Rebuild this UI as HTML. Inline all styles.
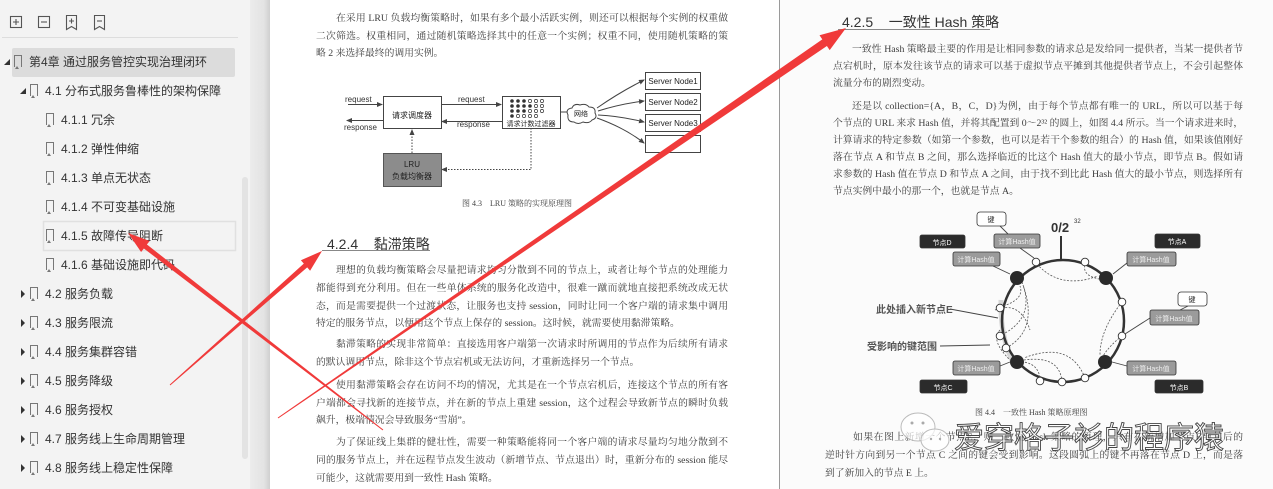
<!DOCTYPE html>
<html><head><meta charset="utf-8">
<style>
*{margin:0;padding:0;box-sizing:border-box}
body{width:1273px;height:489px;overflow:hidden;position:relative;background:#fff;font-family:"Liberation Sans","Noto Sans CJK SC",sans-serif}
.abs{position:absolute}
#side{left:0;top:0;width:250px;height:489px;background:#f3f3f3}
#gap{left:250px;top:0;width:20px;height:489px;background:linear-gradient(90deg,#ececec,#e3e3e3 70%,#cfcfcf)}
#lp{left:270px;top:0;width:509px;height:489px;background:#fff}
#div{left:779px;top:0;width:1px;height:489px;background:#9a9a9a}
#rp{left:780px;top:0;width:493px;height:489px;background:#fbfbfb}
.it{position:absolute;font-size:12px;color:#333;white-space:nowrap;line-height:16px}
.bm{display:inline-block;width:8px;height:12px;border:1.3px solid #777;border-bottom:none;position:relative;vertical-align:-1px;margin-right:7px}
.bm:after{content:"";position:absolute;left:0;bottom:-2px;width:0;height:0;border-left:2.7px solid transparent;border-right:2.7px solid transparent;border-bottom:3px solid #777}
.ln{position:absolute;font-family:"Liberation Serif","Noto Serif CJK SC",serif;font-size:9.8px;color:#3c3c3c;white-space:nowrap;text-align:justify;text-align-last:justify;text-justify:inter-character;line-height:14px}
.ln.e{text-align-last:left}
.h{position:absolute;font-family:"Liberation Sans","Noto Sans CJK SC",sans-serif;font-size:13px;color:#333;white-space:nowrap}
</style></head><body>
<div id="side" class="abs"></div>
<div id="gap" class="abs"></div>
<div id="lp" class="abs"></div>
<div id="div" class="abs"></div>
<div id="rp" class="abs"></div>

<svg class="abs" style="left:0;top:0" width="250" height="489">
 <g stroke="#555" fill="none" stroke-width="1.1">
  <rect x="10.5" y="16.5" width="11" height="11"/><path d="M13 22h6M16 19v6"/>
  <rect x="38.5" y="16.5" width="11" height="11"/><path d="M41 22h6"/>
  <path d="M66.5 15.5h10v14l-5-3-5 3z"/><path d="M69 21h5M71.5 18.5v5"/>
  <path d="M94.5 15.5h10v14l-5-3-5 3z"/><path d="M97 21h5"/>
 </g>
 <line x1="2" y1="37.5" x2="238" y2="37.5" stroke="#ddd"/>
 <rect x="12" y="48" width="223" height="29" rx="2" fill="#dcdcdc"/>
 <rect x="43.5" y="221.5" width="192" height="29" fill="none" stroke="#e0e0e0" stroke-width="1.5"/>
 <rect x="242" y="177" width="6" height="282" rx="3" fill="#e3e3e3"/>
 <g fill="#333">
  <path d="M4 65l6-6v6z"/><path d="M20 94l6-6v6z"/>
  <path d="M21 290l4 4-4 4z"/><path d="M21 319l4 4-4 4z"/><path d="M21 348l4 4-4 4z"/><path d="M21 377l4 4-4 4z"/><path d="M21 406l4 4-4 4z"/><path d="M21 435l4 4-4 4z"/><path d="M21 464l4 4-4 4z"/>
 </g>
</svg>
<div class="it" style="left:14px;top:54px"><span class="bm"></span>第4章 通过服务管控实现治理闭环</div>
<div class="it" style="left:30px;top:83px"><span class="bm"></span>4.1 分布式服务鲁棒性的架构保障</div>
<div class="it" style="left:46px;top:112px"><span class="bm"></span>4.1.1 冗余</div>
<div class="it" style="left:46px;top:141px"><span class="bm"></span>4.1.2 弹性伸缩</div>
<div class="it" style="left:46px;top:170px"><span class="bm"></span>4.1.3 单点无状态</div>
<div class="it" style="left:46px;top:199px"><span class="bm"></span>4.1.4 不可变基础设施</div>
<div class="it" style="left:46px;top:228px"><span class="bm"></span>4.1.5 故障传导阻断</div>
<div class="it" style="left:46px;top:257px"><span class="bm"></span>4.1.6 基础设施即代码</div>
<div class="it" style="left:30px;top:286px"><span class="bm"></span>4.2 服务负载</div>
<div class="it" style="left:30px;top:315px"><span class="bm"></span>4.3 服务限流</div>
<div class="it" style="left:30px;top:344px"><span class="bm"></span>4.4 服务集群容错</div>
<div class="it" style="left:30px;top:373px"><span class="bm"></span>4.5 服务降级</div>
<div class="it" style="left:30px;top:402px"><span class="bm"></span>4.6 服务授权</div>
<div class="it" style="left:30px;top:431px"><span class="bm"></span>4.7 服务线上生命周期管理</div>
<div class="it" style="left:30px;top:460px"><span class="bm"></span>4.8 服务线上稳定性保障</div>

<div class="ln" style="left:336px;top:12px;width:392px">在采用 LRU 负载均衡策略时，如果有多个最小活跃实例，则还可以根据每个实例的权重做</div>
<div class="ln" style="left:316px;top:30px;width:412px">二次筛选。权重相同，通过随机策略选择其中的任意一个实例；权重不同，使用随机策略的策</div>
<div class="ln e" style="left:316px;top:47px;width:412px">略 2 来选择最终的调用实例。</div>

<div class="h" style="left:327px;top:234px;font-size:14px">4.2.4&nbsp;&nbsp;&nbsp; 黏滞策略</div>
<div class="abs" style="left:322px;top:250px;width:108px;height:1px;background:#888"></div>

<div class="ln" style="left:336px;top:264px;width:392px">理想的负载均衡策略会尽量把请求均匀分散到不同的节点上，或者让每个节点的处理能力</div>
<div class="ln" style="left:316px;top:282px;width:412px">都能得到充分利用。但在一些单体系统的服务化改造中，很难一蹴而就地直接把系统改成无状</div>
<div class="ln" style="left:316px;top:300px;width:412px">态，而是需要提供一个过渡状态，让服务也支持 session，同时让同一个客户端的请求集中调用</div>
<div class="ln e" style="left:316px;top:317px;width:412px">特定的服务节点，以便用这个节点上保存的 session。这时候，就需要使用黏滞策略。</div>
<div class="ln" style="left:336px;top:338px;width:392px">黏滞策略的实现非常简单：直接选用客户端第一次请求时所调用的节点作为后续所有请求</div>
<div class="ln e" style="left:316px;top:356px;width:412px">的默认调用节点，除非这个节点宕机或无法访问，才重新选择另一个节点。</div>
<div class="ln" style="left:336px;top:379px;width:392px">使用黏滞策略会存在访问不均的情况，尤其是在一个节点宕机后，连接这个节点的所有客</div>
<div class="ln" style="left:316px;top:397px;width:412px">户端都会寻找新的连接节点，并在新的节点上重建 session，这个过程会导致新节点的瞬时负载</div>
<div class="ln e" style="left:316px;top:414px;width:412px">飙升，极端情况会导致服务“雪崩”。</div>
<div class="ln" style="left:336px;top:436px;width:392px">为了保证线上集群的健壮性，需要一种策略能将同一个客户端的请求尽量均匀地分散到不</div>
<div class="ln" style="left:316px;top:454px;width:412px">同的服务节点上，并在远程节点发生波动（新增节点、节点退出）时，重新分布的 session 能尽</div>
<div class="ln e" style="left:316px;top:472px;width:412px">可能少，这就需要用到一致性 Hash 策略。</div>

<div class="h" style="left:842px;top:12px;font-size:14px">4.2.5&nbsp;&nbsp;&nbsp; 一致性 Hash 策略</div>
<div class="abs" style="left:838px;top:29px;width:152px;height:1px;background:#888"></div>
<div class="ln" style="left:852px;top:43px;width:391px">一致性 Hash 策略最主要的作用是让相同参数的请求总是发给同一提供者，当某一提供者节</div>
<div class="ln" style="left:833px;top:60px;width:410px">点宕机时，原本发往该节点的请求可以基于虚拟节点平摊到其他提供者节点上，不会引起整体</div>
<div class="ln e" style="left:833px;top:77px;width:410px">流量分布的剧烈变动。</div>
<div class="ln" style="left:852px;top:100px;width:391px">还是以 collection={A，B，C，D}为例，由于每个节点都有唯一的 URL，所以可以基于每</div>
<div class="ln" style="left:833px;top:117px;width:410px">个节点的 URL 来求 Hash 值，并将其配置到 0～2³² 的圆上，如图 4.4 所示。当一个请求进来时，</div>
<div class="ln" style="left:833px;top:134px;width:410px">计算请求的特定参数（如第一个参数，也可以是若干个参数的组合）的 Hash 值，如果该值刚好</div>
<div class="ln" style="left:833px;top:151px;width:410px">落在节点 A 和节点 B 之间，那么选择临近的比这个 Hash 值大的最小节点，即节点 B。假如请</div>
<div class="ln" style="left:833px;top:168px;width:410px">求参数的 Hash 值在节点 D 和节点 A 之间，由于找不到比此 Hash 值大的最小节点，则选择所有</div>
<div class="ln e" style="left:833px;top:185px;width:410px">节点实例中最小的那一个，也就是节点 A。</div>
<div class="ln" style="left:853px;top:431px;width:390px">如果在图上新增一个节点E，则一致性 Hash 策略的原理，只有在新增加节点E与其后的</div>
<div class="ln" style="left:825px;top:449px;width:418px">逆时针方向到另一个节点 C 之间的键会受到影响。这段圆弧上的键不再落在节点 D 上，而是落</div>
<div class="ln e" style="left:825px;top:467px;width:418px">到了新加入的节点 E 上。</div>

<svg class="abs" style="left:0;top:0" width="1273" height="489" font-family="Liberation Sans,Noto Sans CJK SC,sans-serif">
 <defs>
  <marker id="ar" markerWidth="6" markerHeight="6" refX="5" refY="3" orient="auto"><path d="M0,0.5L6,3L0,5.5z" fill="#444"/></marker>
 </defs>
 <g font-size="8" fill="#333">
  <text x="345" y="102">request</text>
  <text x="344" y="130">response</text>
  <text x="458" y="102">request</text>
  <text x="457" y="127">response</text>
 </g>
 <g stroke="#444" stroke-width="1" fill="none">
  <line x1="348" y1="104.5" x2="382" y2="104.5" marker-end="url(#ar)"/>
  <line x1="383" y1="120.5" x2="347" y2="120.5" marker-end="url(#ar)"/>
  <line x1="441" y1="104.5" x2="501" y2="104.5" marker-end="url(#ar)"/>
  <line x1="502" y1="121.5" x2="442" y2="121.5" marker-end="url(#ar)"/>
  <path d="M531 128V169.5H442" stroke-dasharray="1.5 1.5" marker-end="url(#ar)"/>
  <path d="M412 153V130" stroke-dasharray="1.5 1.5" marker-end="url(#ar)"/>
  <rect x="383.5" y="96.5" width="58" height="32" fill="#fff"/>
  <rect x="502.5" y="96.5" width="58" height="32" fill="#fff"/>
  <path d="M597 108Q620 92 644 80" marker-end="url(#ar)"/>
  <path d="M598 111Q620 104 644 101" marker-end="url(#ar)"/>
  <path d="M598 115Q620 116 644 122" marker-end="url(#ar)"/>
  <path d="M597 118Q625 128 644 143" marker-end="url(#ar)"/>
  <rect x="645.5" y="72.5" width="55" height="17" fill="#fff"/>
  <rect x="645.5" y="93.5" width="55" height="17" fill="#fff"/>
  <rect x="645.5" y="114.5" width="55" height="17" fill="#fff"/>
  <rect x="645.5" y="135.5" width="55" height="17" fill="#fff"/>
  <line x1="560" y1="112" x2="567" y2="112"/>
  <path d="M568 115q-3-6 4-7q2-5 8-3q6-2 9 2q7 0 6 6q3 5-3 7q-3 4-9 2q-5 3-9 0q-7 0-6-7z" fill="#fff"/>
 </g>
 <rect x="383.5" y="153.5" width="58" height="33" fill="#8c8c8c" stroke="#555"/>
 <g font-size="8" fill="#222" text-anchor="middle">
  <text x="412" y="118">请求调度器</text>
  <text x="412" y="167">LRU</text>
  <text x="412" y="179">负载均衡器</text>
  <text x="531" y="126" font-size="7">请求计数过滤器</text>
  <text x="581" y="116" font-size="7">网络</text>
  <text x="673" y="84">Server Node1</text>
  <text x="673" y="105">Server Node2</text>
  <text x="673" y="126">Server Node3</text>
 </g>
 <g fill="#333">
  <circle cx="512" cy="101" r="1.8"/><circle cx="518" cy="101" r="1.8"/><circle cx="524" cy="101" r="1.8"/>
  <circle cx="512" cy="106" r="1.8"/><circle cx="518" cy="106" r="1.8"/><circle cx="524" cy="106" r="1.8"/><circle cx="530" cy="106" r="1.8"/>
  <circle cx="512" cy="111" r="1.8"/><circle cx="518" cy="111" r="1.8"/><circle cx="524" cy="111" r="1.8"/>
  <circle cx="512" cy="116" r="1.8"/>
 </g>
 <g fill="none" stroke="#333" stroke-width="0.7">
  <circle cx="530" cy="101" r="1.6"/><circle cx="536" cy="101" r="1.6"/><circle cx="542" cy="101" r="1.6"/>
  <circle cx="536" cy="106" r="1.6"/><circle cx="542" cy="106" r="1.6"/>
  <circle cx="530" cy="111" r="1.6"/><circle cx="536" cy="111" r="1.6"/><circle cx="542" cy="111" r="1.6"/>
  <circle cx="518" cy="116" r="1.6"/><circle cx="524" cy="116" r="1.6"/><circle cx="530" cy="116" r="1.6"/><circle cx="536" cy="116" r="1.6"/>
 </g>
 <text x="462" y="206" font-size="8" fill="#444" font-family="Liberation Serif,Noto Serif CJK SC,serif">图 4.3　LRU 策略的实现原理图</text>

 <path d="M1001 300Q1000 335 1012 360" stroke="#d6d6d6" stroke-width="5" fill="none"/>
 <circle cx="1063" cy="321" r="61" fill="none" stroke="#333" stroke-width="2.5"/>
 <line x1="1061" y1="236" x2="1061" y2="260" stroke="#333" stroke-width="2"/>
 <text x="1051" y="232" font-size="13" font-weight="bold" fill="#333">0/2</text>
 <text x="1074" y="223" font-size="6" fill="#333">32</text>
 <g fill="none" stroke="#555" stroke-width="0.8" stroke-dasharray="2 1.5">
  <path d="M1037 264Q1060 290 1098 276"/>
  <path d="M1086 262Q1080 275 1099 279"/>
  <path d="M1122 302Q1100 330 1100 355"/>
  <path d="M1122 336Q1110 345 1103 356"/>
  <path d="M1000 307Q1025 300 1020 286"/>
  <path d="M999 336Q1035 320 1023 285"/>
  <path d="M1006 348Q1040 330 1022 282"/>
  <path d="M1040 381Q1040 365 1024 362"/>
  <path d="M1062 382Q1060 355 1024 360"/>
  <path d="M1085 378Q1070 340 1024 358"/>
  <path d="M1000 330Q990 340 1010 360"/>
  <path d="M995 310Q1020 300 1030 330"/>
 </g>
 <g fill="#2a2a2a">
  <circle cx="1017" cy="278" r="7"/><circle cx="1106" cy="278" r="7"/><circle cx="1017" cy="362" r="7"/><circle cx="1105" cy="362" r="7"/>
 </g>
 <g fill="#fff" stroke="#333" stroke-width="0.9">
  <circle cx="1036" cy="262" r="3.8"/><circle cx="1085" cy="262" r="3.8"/><circle cx="1122" cy="302" r="3.8"/><circle cx="1122" cy="336" r="3.8"/>
  <circle cx="1000" cy="308" r="3.8"/><circle cx="1000" cy="336" r="3.8"/><circle cx="1006" cy="348" r="3.8"/>
  <circle cx="1040" cy="381" r="3.8"/><circle cx="1062" cy="382" r="3.8"/><circle cx="1085" cy="378" r="3.8"/>
 </g>
 <g stroke="#444" stroke-width="0.9">
  <line x1="993" y1="266" x2="1010" y2="274"/>
  <line x1="1020" y1="248" x2="1034" y2="258"/>
  <line x1="1000" y1="226" x2="1008" y2="234"/>
  <line x1="1127" y1="263" x2="1113" y2="274"/>
  <line x1="1150" y1="318" x2="1125" y2="334"/>
  <line x1="1188" y1="306" x2="1180" y2="310"/>
  <line x1="1000" y1="366" x2="1010" y2="362"/>
  <line x1="1127" y1="366" x2="1112" y2="362"/>
  <line x1="950" y1="309" x2="998" y2="318"/>
  <line x1="940" y1="346" x2="990" y2="345"/>
 </g>
 <g stroke="#333" stroke-width="0.8">
  <rect x="920" y="235" width="45" height="13" rx="2" fill="#2b2b2b"/>
  <rect x="1155" y="234" width="45" height="14" rx="2" fill="#2b2b2b"/>
  <rect x="920" y="380" width="47" height="13" rx="2" fill="#2b2b2b"/>
  <rect x="1155" y="380" width="48" height="13" rx="2" fill="#2b2b2b"/>
  <rect x="953" y="252" width="47" height="14" rx="2" fill="#9b9b9b"/>
  <rect x="994" y="234" width="46" height="14" rx="2" fill="#9b9b9b"/>
  <rect x="1127" y="252" width="49" height="14" rx="2" fill="#9b9b9b"/>
  <rect x="1150" y="310" width="49" height="15" rx="2" fill="#9b9b9b"/>
  <rect x="953" y="361" width="47" height="14" rx="2" fill="#9b9b9b"/>
  <rect x="1127" y="361" width="49" height="14" rx="2" fill="#9b9b9b"/>
  <rect x="977" y="212" width="29" height="14" rx="3" fill="#fff"/>
  <rect x="1178" y="292" width="29" height="14" rx="3" fill="#fff"/>
 </g>
 <g font-size="7" text-anchor="middle">
  <g fill="#fff"><text x="942" y="245">节点D</text><text x="1177" y="244">节点A</text><text x="943" y="390">节点C</text><text x="1179" y="390">节点B</text></g>
  <g fill="#eee"><text x="976" y="262">计算Hash值</text><text x="1017" y="244">计算Hash值</text><text x="1151" y="262">计算Hash值</text><text x="1174" y="321">计算Hash值</text><text x="976" y="371">计算Hash值</text><text x="1151" y="371">计算Hash值</text></g>
  <g fill="#222"><text x="991" y="222">键</text><text x="1192" y="302">键</text></g>
 </g>
 <text x="876" y="313" font-size="10" font-weight="bold" fill="#555">此处插入新节点E</text>
 <text x="867" y="350" font-size="10" font-weight="bold" fill="#555">受影响的键范围</text>
 <text x="975" y="415" font-size="8" fill="#444" font-family="Liberation Serif,Noto Serif CJK SC,serif">图 4.4　一致性 Hash 策略原理图</text>
 <g fill="rgba(255,255,255,0.7)" stroke="#bbb" stroke-width="1">
  <ellipse cx="918" cy="427" rx="17" ry="14"/>
  <ellipse cx="935" cy="440" rx="14" ry="11"/>
 </g>
 <g fill="#aaa"><circle cx="912" cy="423" r="1.5"/><circle cx="923" cy="423" r="1.5"/><circle cx="931" cy="439" r="1.2"/><circle cx="940" cy="439" r="1.2"/></g>
 <text x="954" y="448" font-size="30" fill="rgba(255,255,255,0.75)" stroke="#444" stroke-width="0.9">爱穿格子衫的程序猿</text>

 <g fill="#f03a3a">
  <polygon points="383.3,429.6 146.9,244.5 149.7,241 128,233 141.1,252 143.9,248.5 382.7,430.4"/>
  <polygon points="170.3,385.4 307.2,267.4 310.1,270.8 322,251 300.9,260.2 303.8,263.6 169.7,384.6"/>
  <polygon points="278.3,418.4 826.9,46 829.7,50.1 846,28 819.5,35.3 822.3,39.4 277.7,417.6"/>
 </g>
</svg>
</body></html>
